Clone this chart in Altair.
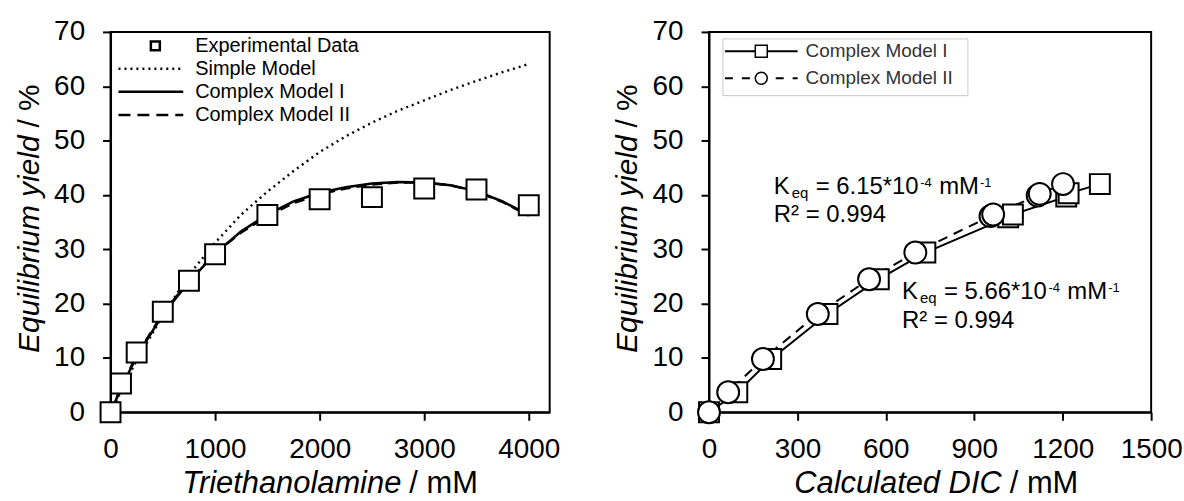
import altair as alt
import pandas as pd

FONT = "Liberation Sans"

# ---------------- Left panel data ----------------
exp_x = [0, 100, 250, 500, 750, 1000, 1500, 2000, 2500, 3000, 3500, 4000]
exp_y = [0, 5.3, 11.0, 18.5, 24.2, 29.1, 36.3, 39.2, 39.6, 41.2, 41.0, 38.1]

simple_x = [0, 250, 500, 750, 1000, 1250, 1500, 1750, 2000, 2250, 2500, 2750, 3000, 3250, 3500, 3750, 4000]
simple_y = [0, 9.6, 17.8, 25.3, 31.2, 36.4, 40.6, 44.4, 47.9, 50.8, 53.3, 55.5, 57.4, 59.3, 61.0, 62.6, 64.1]

model_x = [0, 100, 250, 500, 750, 1000, 1250, 1500, 1750, 2000, 2250, 2500, 2750, 3000, 3250, 3500, 3750, 4000]
model1_y = [0, 4.4, 10.3, 18.0, 24.0, 29.2, 33.3, 36.4, 38.8, 40.4, 41.4, 42.1, 42.4, 42.3, 41.8, 40.7, 38.8, 36.3]
model2_y = [0, 4.6, 10.5, 18.2, 24.2, 29.3, 33.1, 36.1, 38.5, 40.1, 41.2, 41.9, 42.3, 42.3, 41.8, 40.6, 38.7, 36.2]

left_x_ticks = [0, 1000, 2000, 3000, 4000]
y_ticks = [0, 10, 20, 30, 40, 50, 60, 70]

# ---------------- Right panel data ----------------
dic1_x = [0, 96, 211, 402, 576, 734, 1015, 1031, 1212, 1220, 1326]
dic1_y = [0, 3.7, 9.8, 18.1, 24.5, 29.4, 35.9, 36.4, 39.7, 40.3, 42.0]
dic2_x = [0, 65, 183, 369, 543, 700, 955, 964, 1115, 1122, 1201]
dic2_y = [0, 3.7, 9.8, 18.1, 24.5, 29.4, 36.1, 36.4, 39.9, 40.2, 42.0]

right_x_ticks = [0, 300, 600, 900, 1200, 1500]

legend_left = ["Experimental Data", "Simple Model", "Complex Model I", "Complex Model II"]
legend_right = ["Complex Model I", "Complex Model II"]

ann1 = {"x": 220, "y1": 40.1, "y2": 35.0, "k": "6.15*10", "r2": "R\u00b2 = 0.994"}
ann2 = {"x": 655, "y1": 20.8, "y2": 15.6, "k": "5.66*10", "r2": "R\u00b2 = 0.994"}

# ---------------- helpers ----------------
ax_y = alt.Axis(values=y_ticks, title=None, labelPadding=18, format="d")
yscale = alt.Scale(domain=[0, 70], nice=False, zero=False)


def X(scale, axis):
    return alt.X("x:Q", scale=scale, axis=axis)


def Y():
    return alt.Y("y:Q", scale=yscale, axis=ax_y)


def txt(s, x, y, size=20, style="normal", align="left", baseline="middle",
        angle=0, dx=0, dy=0, color="black"):
    kw = dict(font=FONT, fontSize=size, fontStyle=style, align=align,
              baseline=baseline, color=color, dx=dx, dy=dy)
    if angle:
        kw["angle"] = angle
    return alt.Chart(pd.DataFrame({"t": [s]})).mark_text(**kw).encode(
        x=alt.value(x), y=alt.value(y), text="t:N")


def axis_titles(xit, xnorm, xanchor):
    return [
        txt(xit, xanchor, 463, size=31, style="italic", align="right", baseline="alphabetic"),
        txt("/ " + xnorm, xanchor, 463, size=31, align="left", baseline="alphabetic", dx=8),
        txt("Equilibrium yield", -72, 104, size=30, style="italic", align="right",
            baseline="alphabetic", angle=270),
        txt("/ %", -72, 104, size=30, align="left", baseline="alphabetic", angle=270, dx=8),
    ]


# ---------------- Left panel ----------------
lx_scale = alt.Scale(domain=[0, 4200], nice=False, zero=False)
ax_lx = alt.Axis(values=left_x_ticks, title=None, labelPadding=15, labelFlush=False, format="d")

df_exp = pd.DataFrame({"x": exp_x, "y": exp_y})
df_simple = pd.DataFrame({"x": simple_x, "y": simple_y})
df_m1 = pd.DataFrame({"x": model_x, "y": model1_y})
df_m2 = pd.DataFrame({"x": model_x, "y": model2_y})

l_simple = alt.Chart(df_simple).mark_line(color="black", strokeWidth=2.4, strokeDash=[2, 4]).encode(
    x=X(lx_scale, ax_lx), y=Y())
l_m1 = alt.Chart(df_m1).mark_line(color="black", strokeWidth=2.5).encode(
    x=X(lx_scale, ax_lx), y=Y())
l_m2 = alt.Chart(df_m2).mark_line(color="black", strokeWidth=2.5, strokeDash=[10, 6]).encode(
    x=X(lx_scale, ax_lx), y=Y())
l_exp = alt.Chart(df_exp).mark_point(shape="square", size=400, filled=True, fill="white",
                                     stroke="black", strokeWidth=2, opacity=1).encode(
    x=X(lx_scale, ax_lx), y=Y())

rows = [14, 37, 60, 83.5]
one = pd.DataFrame({"k": [0]})
leg_l = [
    alt.Chart(one).mark_point(shape="square", size=81, filled=True, fill="white",
                              stroke="black", strokeWidth=2.5, opacity=1).encode(
        x=alt.value(45), y=alt.value(rows[0])),
    alt.Chart(one).mark_rule(color="black", strokeWidth=2.4, strokeDash=[2, 4]).encode(
        x=alt.value(8), x2=alt.value(73), y=alt.value(rows[1])),
    alt.Chart(one).mark_rule(color="black", strokeWidth=2.5).encode(
        x=alt.value(8), x2=alt.value(73), y=alt.value(rows[2])),
    alt.Chart(one).mark_rule(color="black", strokeWidth=2.5, strokeDash=[12, 7]).encode(
        x=alt.value(8), x2=alt.value(73), y=alt.value(rows[3])),
]
for lab, r in zip(legend_left, rows):
    leg_l.append(txt(lab, 85, r, size=20))

left = alt.layer(l_simple, l_m1, l_m2, l_exp, *leg_l,
                 *axis_titles("Triethanolamine", "mM", 292)).properties(width=441, height=382)

# ---------------- Right panel ----------------
rx_scale = alt.Scale(domain=[0, 1500], nice=False, zero=False)
ax_rx = alt.Axis(values=right_x_ticks, title=None, labelPadding=15, labelFlush=False, format="d")

df_d1 = pd.DataFrame({"x": dic1_x, "y": dic1_y})
df_d2 = pd.DataFrame({"x": dic2_x, "y": dic2_y})

r_l1 = alt.Chart(df_d1).mark_line(color="black", strokeWidth=2).encode(x=X(rx_scale, ax_rx), y=Y())
r_l2 = alt.Chart(df_d2).mark_line(color="black", strokeWidth=2, strokeDash=[10, 7]).encode(
    x=X(rx_scale, ax_rx), y=Y())
r_sq = alt.Chart(df_d1).mark_point(shape="square", size=400, filled=True, fill="white",
                                   stroke="black", strokeWidth=2, opacity=1).encode(
    x=X(rx_scale, ax_rx), y=Y())
r_ci = alt.Chart(df_d2).mark_point(shape="circle", size=484, filled=True, fill="white",
                                   stroke="black", strokeWidth=2, opacity=1).encode(
    x=X(rx_scale, ax_rx), y=Y())


def ann_layers(a):
    d = pd.DataFrame({"x": [a["x"]], "y": [a["y1"]]})
    d2 = pd.DataFrame({"x": [a["x"]], "y": [a["y2"]]})
    out = []
    pieces = [("K", 24, 0, 0), ("eq", 15, 18, 4), ("= " + a["k"], 24, 42, 0),
              ("-4", 13, 147, -7), ("mM", 24, 166, 0), ("-1", 13, 207, -7)]
    for s, fs, dx, dy in pieces:
        out.append(alt.Chart(d).mark_text(font=FONT, fontSize=fs, align="left", baseline="alphabetic",
                                          color="black", dx=dx, dy=dy).encode(
            x=X(rx_scale, ax_rx), y=Y(), text=alt.value(s)))
    out.append(alt.Chart(d2).mark_text(font=FONT, fontSize=24, align="left", baseline="alphabetic",
                                       color="black").encode(
        x=X(rx_scale, ax_rx), y=Y(), text=alt.value(a["r2"])))
    return out


rrows = [19.5, 46.5]
leg_r = [
    alt.Chart(one).mark_rect(fill="white", stroke="#c8c8c8", strokeWidth=1).encode(
        x=alt.value(14), x2=alt.value(260), y=alt.value(7), y2=alt.value(64)),
    alt.Chart(one).mark_rule(color="black", strokeWidth=2).encode(
        x=alt.value(16), x2=alt.value(89), y=alt.value(rrows[0])),
    alt.Chart(one).mark_rule(color="black", strokeWidth=2, strokeDash=[8, 9]).encode(
        x=alt.value(16), x2=alt.value(89), y=alt.value(rrows[1])),
    alt.Chart(one).mark_point(shape="square", size=144, filled=True, fill="white", stroke="black",
                              strokeWidth=1.5, opacity=1).encode(x=alt.value(52.5), y=alt.value(rrows[0])),
    alt.Chart(one).mark_point(shape="circle", size=144, filled=True, fill="white", stroke="black",
                              strokeWidth=1.5, opacity=1).encode(x=alt.value(52.5), y=alt.value(rrows[1])),
]
for lab, r in zip(legend_right, rrows):
    leg_r.append(txt(lab, 97, r, size=19, color="#333333"))

right = alt.layer(r_l1, r_l2, r_sq, r_ci, *ann_layers(ann1), *ann_layers(ann2), *leg_r,
                  *axis_titles("Calculated DIC", "mM", 294)).properties(width=444, height=382)

chart = alt.hconcat(left, right, spacing=51).properties(
    padding={"left": 14, "top": 16, "right": 0, "bottom": 0}
).configure_view(stroke="black", strokeWidth=2).configure_axis(
    domainColor="black", domainWidth=2, tickColor="black", tickWidth=2, tickSize=8,
    labelFont=FONT, labelFontSize=28, labelColor="black", grid=False
)

chart.save("out.html", embed_options={"renderer": "svg", "actions": False})
